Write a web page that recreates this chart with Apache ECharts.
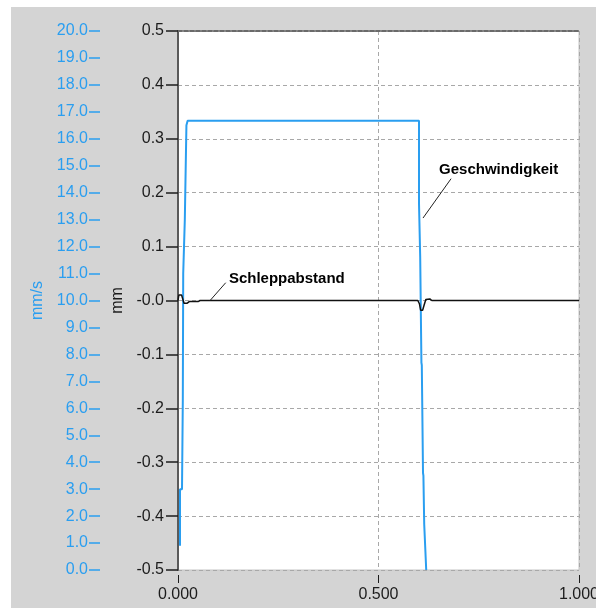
<!DOCTYPE html>
<html>
<head>
<meta charset="utf-8">
<script src="https://cdn.jsdelivr.net/npm/echarts@6/dist/echarts.min.js"></script>
<style>
  html, body { margin: 0; padding: 0; background: #ffffff; width: 596px; height: 608px; overflow: hidden; }
  #chart { position: absolute; left: 11px; top: 7px; width: 585px; height: 601px; }
</style>
</head>
<body>
<div id="chart"></div>
<script>
// Time axis (s)
const timeMin = 0, timeMax = 1, timeStep = 0.5;
// Lag axis (mm) and velocity axis (mm/s)
const mmMin = -0.5, mmMax = 0.5, mmStep = 0.1;
const speedMin = 0, speedMax = 20, speedStep = 1;

// Geschwindigkeit (mm/s) over time (s)
const speedTime  = [0.005, 0.005, 0.010, 0.012, 0.013, 0.017, 0.021, 0.024, 0.601, 0.601, 0.604, 0.607, 0.608, 0.611, 0.612, 0.614, 0.619];
const speedValue = [0.9,   3.0,   3.0,   6.3,   11.0,  13.0,  16.5,  16.67, 16.67, 13.6,  11.6,  7.7,   7.6,   3.6,   3.5,   1.7,   0.0];

// Schleppabstand (mm) over time (s)
const lagTime  = [0, 0.002, 0.009, 0.015, 0.023, 0.028, 0.050, 0.055, 0.598, 0.602, 0.605, 0.610, 0.614, 0.618, 0.628, 0.633, 1.0];
const lagValue = [0, 0.010, 0.010, -0.005, -0.005, -0.002, -0.002, 0, 0, -0.006, -0.018, -0.018, -0.008, 0.002, 0.003, 0, 0];

// Annotation anchors: [text position, leader start, leader end] in data units
const lagNote   = { text: 'Schleppabstand', at: [0.127, 0.027], from: [0.119, 0.033], to: [0.080, 0.0] };
const speedNote = { text: 'Geschwindigkeit', at: [0.651, 0.229], from: [0.681, 0.226], to: [0.611, 0.153] };

const blue = '#2a9ef0';
const ink = '#1c1c1c';
const font = 'Liberation Sans, Arial, sans-serif';

const zip = (xs, ys) => xs.map((x, i) => [x, ys[i]]);

const chart = echarts.init(document.getElementById('chart'), null, { renderer: 'canvas' });

const option = {
  backgroundColor: '#d4d4d4',
  animation: false,
  grid: {
    left: 167, top: 24, right: 17, bottom: 38,
    containLabel: false, outerBoundsMode: 'none',
    show: true, backgroundColor: '#ffffff', borderColor: '#c4c4c4', borderWidth: 1
  },
  xAxis: [
    {
      type: 'value', min: timeMin, max: timeMax, interval: timeStep,
      axisLine: { show: false, onZero: false },
      axisTick: { show: false },
      axisLabel: { show: false },
      splitLine: { show: true, lineStyle: { color: '#a8a8a8', type: [4, 3], width: 1 } }
    },
    {
      type: 'value', min: timeMin, max: timeMax, interval: timeStep,
      position: 'bottom', offset: 5,
      axisLine: { show: false, onZero: false },
      axisTick: { show: true, length: 8, lineStyle: { color: ink, width: 1 } },
      axisLabel: { show: true, margin: 12, color: ink, fontSize: 16, fontFamily: font,
                   formatter: v => v.toFixed(3) },
      splitLine: { show: false }
    },
    {
      type: 'value', min: timeMin, max: timeMax, interval: timeStep,
      position: 'top',
      axisLine: { show: true, onZero: false, lineStyle: { color: '#6a6a6a', type: [4, 2], width: 2 } },
      axisTick: { show: false }, axisLabel: { show: false }, splitLine: { show: false }
    }
  ],
  yAxis: [
    {
      type: 'value', min: mmMin, max: mmMax, interval: mmStep, position: 'left',
      name: 'mm', nameLocation: 'middle', nameRotate: 90, nameGap: 48,
      nameTextStyle: { color: ink, fontSize: 16, fontFamily: font },
      axisLine: { show: true, onZero: false, lineStyle: { color: '#5a5a5a', width: 2 } },
      axisTick: { show: true, length: 12, lineStyle: { color: ink, width: 1.5 } },
      axisLabel: { margin: 14, color: ink, fontSize: 16, fontFamily: font,
                   formatter: v => (Math.abs(v) < 1e-9 ? '-0.0' : v.toFixed(1)) },
      splitLine: { show: true, lineStyle: { color: '#a8a8a8', type: [4, 3], width: 1 } }
    },
    {
      type: 'value', min: speedMin, max: speedMax, interval: speedStep, position: 'left', offset: 78,
      name: 'mm/s', nameLocation: 'middle', nameRotate: 90, nameGap: 53,
      nameTextStyle: { color: blue, fontSize: 16, fontFamily: font },
      axisLine: { show: false, onZero: false },
      axisTick: { show: true, length: 11, lineStyle: { color: blue, width: 1.5 } },
      axisLabel: { margin: 12, color: blue, fontSize: 16, fontFamily: font,
                   formatter: v => v.toFixed(1) },
      splitLine: { show: false }
    }
  ],
  series: [
    {
      name: 'Geschwindigkeit', type: 'line', xAxisIndex: 0, yAxisIndex: 1,
      data: zip(speedTime, speedValue), showSymbol: false, smooth: false,
      lineStyle: { color: blue, width: 2 }, z: 3
    },
    {
      name: 'Schleppabstand', type: 'line', xAxisIndex: 0, yAxisIndex: 0,
      data: zip(lagTime, lagValue), showSymbol: false, smooth: false,
      lineStyle: { color: '#111111', width: 1.5 }, z: 4
    }
  ]
};

chart.setOption(option);

// Callout texts with leader lines, placed through the axis scales
function px(pt) { return chart.convertToPixel({ xAxisIndex: 0, yAxisIndex: 0 }, pt); }
function note(n) {
  const p = px(n.at), a = px(n.from), b = px(n.to);
  return [
    { type: 'text', x: p[0], y: p[1], z: 10,
      style: { text: n.text, fill: '#000', font: 'bold 15px ' + font, textVerticalAlign: 'bottom' } },
    { type: 'line', z: 10, shape: { x1: a[0], y1: a[1], x2: b[0], y2: b[1] },
      style: { stroke: '#222', lineWidth: 1 } }
  ];
}
chart.setOption({ graphic: [...note(lagNote), ...note(speedNote)] });
</script>
</body>
</html>
